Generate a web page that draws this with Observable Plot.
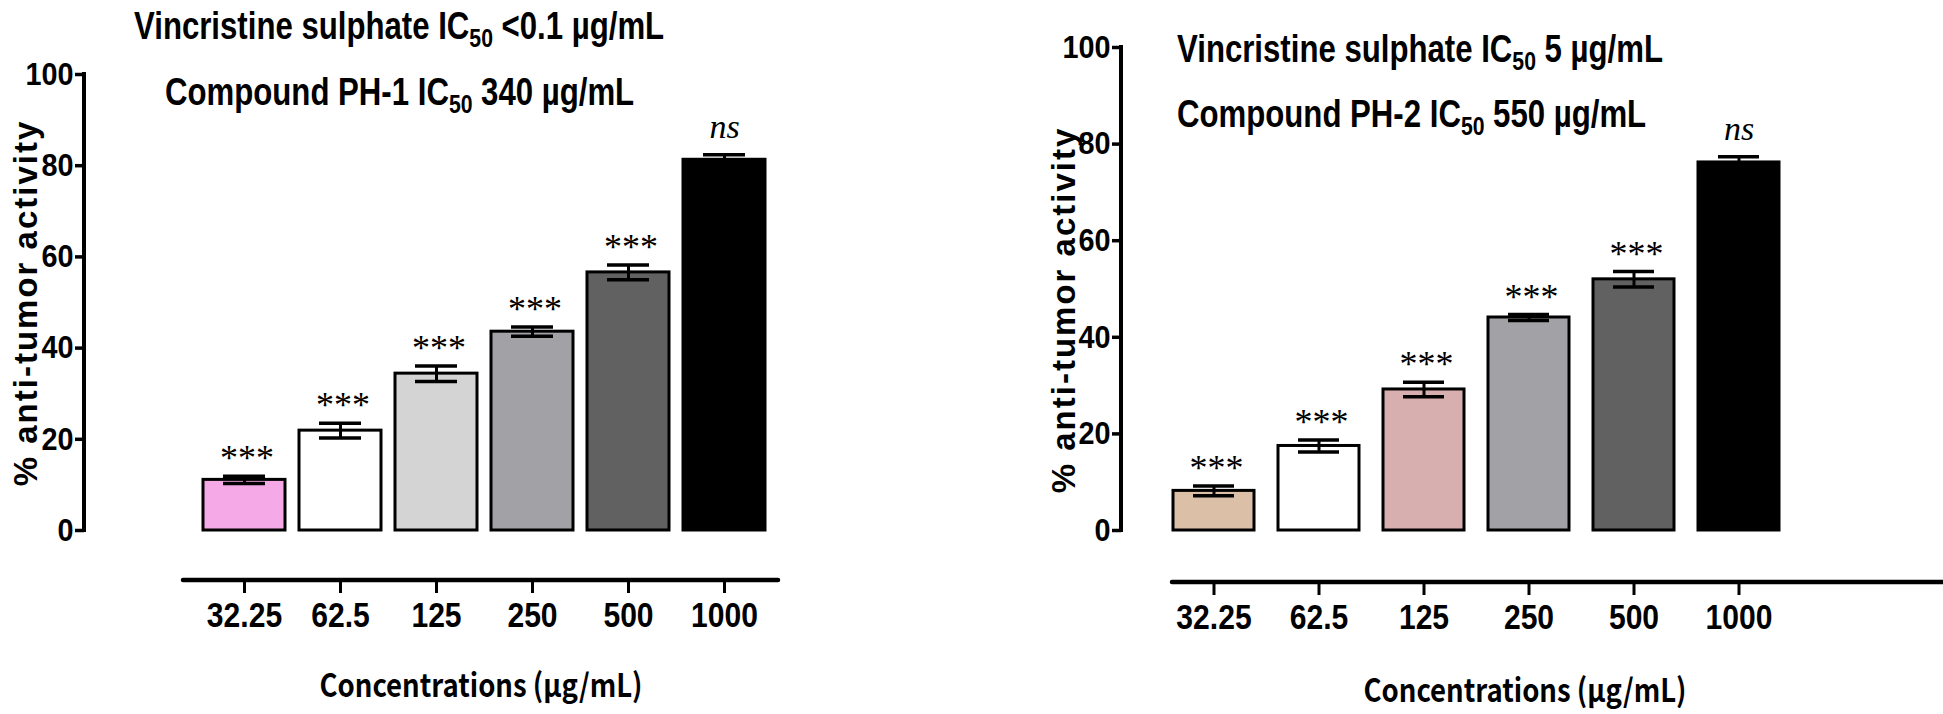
<!DOCTYPE html>
<html><head><meta charset="utf-8">
<script src="https://cdn.jsdelivr.net/npm/d3@7"></script>
<script src="https://cdn.jsdelivr.net/npm/@observablehq/plot@0.6"></script>
<style>
body{margin:0;background:#fff;}
#wrap{position:relative;width:1943px;height:714px;overflow:hidden;background:#fff;}
.panel{position:absolute;top:0;}
.ann{position:absolute;font-family:"Liberation Sans",Arial,sans-serif;font-weight:bold;font-size:38px;white-space:nowrap;color:#000;line-height:1;transform:scaleX(0.82);transform-origin:0 50%;}
.ann sub{font-size:0.68em;vertical-align:-0.3em;line-height:0}
.ytitle{position:absolute;font-family:"Liberation Sans",Arial,sans-serif;font-weight:bold;font-size:33px;white-space:nowrap;transform:translate(-50%,-50%) rotate(-90deg);letter-spacing:2px;line-height:1;}
.xtitle{position:absolute;font-family:"Noto Sans CJK KR","Noto Sans",sans-serif;font-weight:bold;font-size:32px;white-space:nowrap;transform:translate(-50%,-50%) scaleX(0.86);line-height:1;}
</style></head>
<body>
<div id="wrap">
  <div class="panel" id="p1" style="left:0;"></div>
  <div class="panel" id="p2" style="left:960px;"></div>
  <div class="ann" style="left:134px;top:7px;">Vincristine sulphate IC<sub>50</sub> &lt;0.1 µg/mL</div>
  <div class="ann" style="left:165px;top:73px;">Compound PH-1 IC<sub>50</sub> 340 µg/mL</div>
  <div class="ann" style="left:1177px;top:30px;">Vincristine sulphate IC<sub>50</sub> 5 µg/mL</div>
  <div class="ann" style="left:1177px;top:95px;">Compound PH-2 IC<sub>50</sub> 550 µg/mL</div>
  <div class="ytitle" style="left:25px;top:303px;">% anti-tumor activity</div>
  <div class="ytitle" style="left:1063px;top:310px;">% anti-tumor activity</div>
  <div class="xtitle" style="left:481px;top:683px;">Concentrations (µg/mL)</div>
  <div class="xtitle" style="left:1525px;top:688px;">Concentrations (µg/mL)</div>
</div>
<script>
const concentrations = ["32.25", "62.5", "125", "250", "500", "1000"];
const yTicks = [0, 20, 40, 60, 80, 100];

const ph1Mean = [11.1, 21.9, 34.4, 43.6, 56.6, 81.3];
const ph1Err  = [0.8, 1.6, 1.7, 1.0, 1.6, 1.1];
const ph1Sig  = ["***", "***", "***", "***", "***", "ns"];
const ph1Colors = ["#f5a9e6", "#ffffff", "#d4d4d4", "#a2a1a6", "#616161", "#000000"];

const ph2Mean = [8.2, 17.5, 29.2, 44.1, 52.0, 76.2];
const ph2Err  = [1.0, 1.25, 1.5, 0.6, 1.6, 1.2];
const ph2Sig  = ["***", "***", "***", "***", "***", "ns"];
const ph2Colors = ["#dbbfa6", "#ffffff", "#d8afaf", "#a2a1a6", "#616161", "#000000"];

const sans = '"Liberation Sans",Arial,sans-serif';

function condense(svg, label, s) {
  svg.querySelectorAll(`g[aria-label="${label}"] text`).forEach(t => {
    const tr = t.getAttribute("transform") || "";
    const x = t.getAttribute("x");
    let extra = "";
    if (x != null && x !== "" && !isNaN(+x)) { t.removeAttribute("x"); extra = ` translate(${+x},0)`; }
    t.setAttribute("transform", `${tr}${extra} scale(${s},1)`);
  });
}

function panel(o) {
  const data = concentrations.map((c, i) => ({c, m: o.mean[i], e: o.err[i], s: o.sig[i], col: o.colors[i]}));
  const stars = data.filter(d => d.s === "***");
  const ns = data.filter(d => d.s === "ns");
  const svg = Plot.plot({
    width: o.width, height: 714,
    marginLeft: o.marginLeft, marginRight: 0, marginTop: 0, marginBottom: 714 - o.xAxisY,
    style: {background: "transparent", overflow: "visible"},
    x: {domain: concentrations, range: o.xRange, paddingInner: o.padding, paddingOuter: o.padding / 2, label: null},
    y: {domain: [0, 100], range: o.yRange, label: null},
    color: {type: "identity"},
    marks: [
      Plot.barY(data, {x: "c", y: "m", fill: "col", stroke: "#000", strokeWidth: 3}),
      Plot.ruleX(data, {x: "c", y1: d => d.m - d.e, y2: d => d.m + d.e, stroke: "#000", strokeWidth: 3}),
      Plot.tickY(data, {x: "c", y: d => d.m + d.e, stroke: "#000", strokeWidth: 3.5, inset: o.capInset}),
      Plot.tickY(data, {x: "c", y: d => d.m - d.e, stroke: "#000", strokeWidth: 3.5, inset: o.capInset}),
      Plot.text(stars, {x: "c", y: d => d.m + d.e, text: "s", dy: -17.5, dx: 2.5, fontSize: 36, fontFamily: '"Liberation Serif",serif', fill: "#000", style: "letter-spacing:5px"}),
      Plot.text(ns, {x: "c", y: d => d.m + d.e, text: "s", dy: -28, fontSize: 34, fontStyle: "italic", fontFamily: '"Liberation Serif",serif', fill: "#000"}),
      Plot.axisY(yTicks, {tickSize: 9, tickPadding: 2, strokeWidth: 3.5, fontSize: 32, fontWeight: "bold", fontFamily: sans, fill: "#000", label: null}),
      Plot.axisX({tickSize: 13, tickPadding: 9, strokeWidth: 3, fontSize: 35, fontWeight: "bold", fontFamily: sans, fill: "#000", label: null}),
      (index, scales, values, dims) => {
        const g = d3.create("svg:g").attr("stroke", "#000").attr("fill", "none");
        g.append("line").attr("x1", dims.marginLeft).attr("x2", dims.marginLeft)
          .attr("y1", scales.y(0) + 2).attr("y2", scales.y(100) - 2).attr("stroke-width", 4);
        const bw = scales.x.bandwidth ? scales.x.bandwidth() : 0;
        const x0 = scales.x(concentrations[0]) - o.lineExtL;
        const x1 = o.lineToEdge ? dims.width + 5 : scales.x(concentrations[concentrations.length - 1]) + bw + o.lineExtR;
        const yb = dims.height - dims.marginBottom;
        g.append("line").attr("x1", x0).attr("x2", x1).attr("y1", yb).attr("y2", yb).attr("stroke-width", 4.5).attr("stroke-linecap", "round");
        return g.node();
      }
    ]
  });
  condense(svg, "x-axis tick label", 0.86);
  condense(svg, "y-axis tick label", 0.9);
  return svg;
}

document.getElementById("p1").append(panel({
  mean: ph1Mean, err: ph1Err, sig: ph1Sig, colors: ph1Colors,
  width: 960, marginLeft: 84, xAxisY: 580,
  xRange: [196, 772], padding: 0.146, yRange: [530, 74],
  capInset: 20, lineExtL: 20, lineExtR: 13, lineToEdge: false
}));
document.getElementById("p2").append(panel({
  mean: ph2Mean, err: ph2Err, sig: ph2Sig, colors: ph2Colors,
  width: 983, marginLeft: 161, xAxisY: 582,
  xRange: [200.5, 830.5], padding: 0.23, yRange: [530, 47],
  capInset: 20, lineExtL: 1, lineExtR: 0, lineToEdge: true
}));
</script>
</body></html>
